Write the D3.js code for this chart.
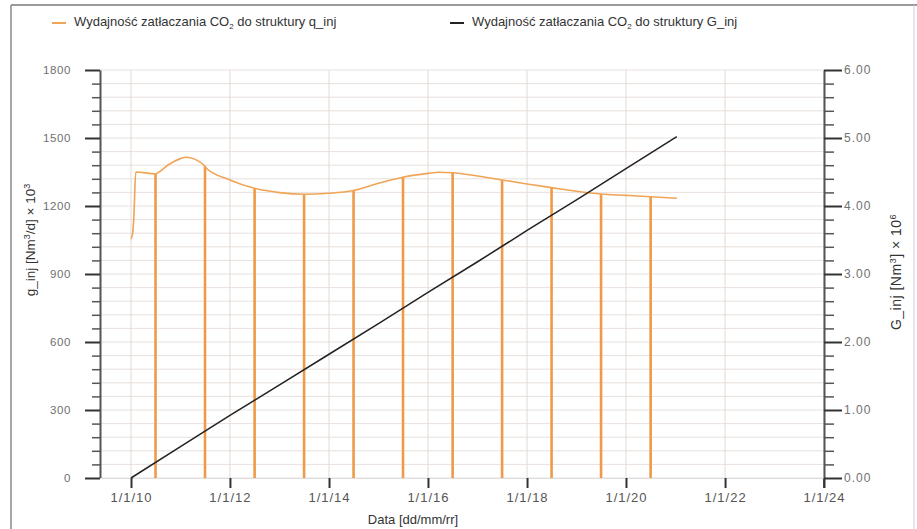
<!DOCTYPE html>
<html>
<head>
<meta charset="utf-8">
<script src="https://cdn.jsdelivr.net/npm/d3@7"></script>
<style>
  body { margin: 0; background: #fff; font-family: "Liberation Sans", Arial, sans-serif; }
  .tick text { fill: #707070; font-size: 11.5px; letter-spacing: 0.6px; }
  .raxis .tick text { font-size: 12px; letter-spacing: 1px; }
  .xaxis .tick text { font-size: 13px; fill: #555; letter-spacing: 1px; }
</style>
</head>
<body>
<svg id="chart" width="917" height="529"></svg>
<script>
// q_inj curve [10^3 Nm3/d]
const qDates = ["2010-01-01", "2010-01-12", "2010-01-22", "2010-02-05", "2010-06-30", "2010-08-01",
  "2010-10-01", "2011-01-01", "2011-02-10", "2011-06-28", "2011-07-05", "2012-01-01", "2012-06-30",
  "2013-01-01", "2013-06-30", "2014-01-01", "2014-06-30", "2015-01-01", "2015-06-30", "2016-01-01",
  "2016-03-20", "2016-06-30", "2017-01-01", "2017-06-30", "2018-01-01", "2018-06-30", "2019-01-01",
  "2019-06-30", "2020-01-01", "2020-06-30", "2021-01-10"];
const qValues = [1055, 1075, 1150, 1350, 1342, 1352, 1381, 1409, 1415, 1378, 1370, 1315, 1278,
  1259, 1252, 1256, 1268, 1300, 1327, 1344, 1349, 1347, 1332, 1315, 1297, 1281, 1265,
  1253, 1247, 1241, 1234];

// yearly shut-ins: rate drops to zero
const dipDates = ["2010-07-01", "2011-07-01", "2012-07-01", "2013-07-01", "2014-07-01", "2015-07-01",
  "2016-07-01", "2017-07-01", "2018-07-01", "2019-07-01", "2020-07-01"];
const dipTops = [1342, 1376, 1278, 1252, 1268, 1327, 1347, 1315, 1281, 1253, 1241];

// G_inj cumulative [10^6 Nm3]
const gDates = ["2010-01-01", "2011-01-01", "2012-01-01", "2013-01-01", "2014-01-01", "2015-01-01",
  "2016-01-01", "2017-01-01", "2018-01-01", "2019-01-01", "2020-01-01", "2021-01-10"];
const gValues = [0, 0.46, 0.92, 1.37, 1.82, 2.27, 2.73, 3.18, 3.64, 4.09, 4.55, 5.02];

const leftTicks = [0, 300, 600, 900, 1200, 1500, 1800];
const rightTicks = [0, 1, 2, 3, 4, 5, 6];
const xTickDates = ["2010-01-01", "2012-01-01", "2014-01-01", "2016-01-01", "2018-01-01",
  "2020-01-01", "2022-01-01", "2024-01-01"];
const xTickLabels = ["1/1/10", "1/1/12", "1/1/14", "1/1/16", "1/1/18", "1/1/20", "1/1/22", "1/1/24"];

const parse = d3.utcParse("%Y-%m-%d");
const svg = d3.select("#chart");

const plotL = 100, plotR = 824, plotT = 70, plotB = 478;
const x = d3.scaleUtc().domain([parse("2010-01-01"), parse("2024-01-01")]).range([131, plotR]);
const yL = d3.scaleLinear().domain([0, 1800]).range([plotB, plotT]);
const yR = d3.scaleLinear().domain([0, 6]).range([plotB, plotT]);

// frame
svg.append("line").attr("x1", 11).attr("x2", 917).attr("y1", 5).attr("y2", 5)
  .attr("stroke", "#9a9a9a").attr("stroke-width", 2);
svg.append("line").attr("x1", 11).attr("x2", 11).attr("y1", 5).attr("y2", 529)
  .attr("stroke", "#8a8a8a").attr("stroke-width", 1.5);
svg.append("line").attr("x1", 914).attr("x2", 914).attr("y1", 5).attr("y2", 529)
  .attr("stroke", "#d0d0d0").attr("stroke-width", 1);

// grid
const minorVals = d3.range(0, 1801, 60);
svg.append("g").selectAll("line").data(minorVals).join("line")
  .attr("x1", plotL).attr("x2", plotR)
  .attr("y1", d => yL(d)).attr("y2", d => yL(d))
  .attr("stroke", "#e8e0dc").attr("stroke-width", 1);
svg.append("g").selectAll("line").data(xTickDates).join("line")
  .attr("x1", d => x(parse(d))).attr("x2", d => x(parse(d)))
  .attr("y1", plotT).attr("y2", plotB)
  .attr("stroke", "#e2dad6").attr("stroke-width", 1);

// left axis
svg.append("g").attr("transform", `translate(${plotL},0)`)
  .call(d3.axisLeft(yL).tickValues(minorVals.filter(v => v % 300)).tickSize(8).tickFormat(""))
  .call(g => g.select(".domain").remove())
  .call(g => g.selectAll("line").attr("stroke", "#555").attr("stroke-width", 1.5));
svg.append("g").attr("transform", `translate(${plotL},0)`)
  .call(d3.axisLeft(yL).tickValues(leftTicks).tickSize(15).tickPadding(14).tickSizeOuter(0)
    .tickFormat(d3.format("d")))
  .call(g => g.select(".domain").attr("stroke", "#555").attr("stroke-width", 2))
  .call(g => g.selectAll("line").attr("stroke", "#333").attr("stroke-width", 2));

// right axis
const rightMinor = d3.range(0, 6.01, 0.2).filter(v => Math.abs(v - Math.round(v)) > 0.01);
svg.append("g").attr("transform", `translate(${plotR},0)`)
  .call(d3.axisRight(yR).tickValues(rightMinor).tickSize(10).tickFormat(""))
  .call(g => g.select(".domain").remove())
  .call(g => g.selectAll("line").attr("stroke", "#555").attr("stroke-width", 1.5));
svg.append("g").attr("class", "raxis").attr("transform", `translate(${plotR},0)`)
  .call(d3.axisRight(yR).tickValues(rightTicks).tickSize(18).tickPadding(2).tickSizeOuter(0)
    .tickFormat(d3.format(".2f")))
  .call(g => g.select(".domain").attr("stroke", "#555").attr("stroke-width", 2))
  .call(g => g.selectAll("line").attr("stroke", "#333").attr("stroke-width", 2));
svg.append("line").attr("x1", plotR).attr("x2", plotR).attr("y1", plotB).attr("y2", 488)
  .attr("stroke", "#555").attr("stroke-width", 2);

// x axis
svg.append("g").attr("class", "xaxis").attr("transform", `translate(0,${plotB})`)
  .call(d3.axisBottom(x).tickValues(xTickDates.map(parse)).tickSize(10).tickPadding(5)
    .tickFormat((d, i) => xTickLabels[i]))
  .call(g => g.select(".domain").attr("stroke", "#ddd").attr("d", `M${plotL},0.5H${plotR}`))
  .call(g => g.selectAll("line").attr("stroke", "#333").attr("stroke-width", 2));

// orange shut-in bars
svg.append("g").selectAll("line").data(dipDates).join("line")
  .attr("x1", d => x(parse(d))).attr("x2", d => x(parse(d)))
  .attr("y1", yL(0)).attr("y2", (d, i) => yL(dipTops[i]))
  .attr("stroke", "#ee9a46").attr("stroke-width", 2.6);

// q_inj curve
const qData = qDates.map((d, i) => ({ date: parse(d), v: qValues[i] }));
svg.append("path").datum(qData)
  .attr("fill", "none").attr("stroke", "#f0a456").attr("stroke-width", 1.6)
  .attr("d", d3.line().x(d => x(d.date)).y(d => yL(d.v)).curve(d3.curveMonotoneX));

// G_inj line
const gData = gDates.map((d, i) => ({ date: parse(d), v: gValues[i] }));
svg.append("path").datum(gData)
  .attr("fill", "none").attr("stroke", "#222").attr("stroke-width", 1.5)
  .attr("d", d3.line().x(d => x(d.date)).y(d => yR(d.v)));

// axis titles
svg.append("text").attr("transform", "translate(35,240) rotate(-90)")
  .attr("text-anchor", "middle").attr("font-size", 13.5).attr("fill", "#333")
  .html('g_inj [Nm<tspan font-size="9" dy="-5">3</tspan><tspan dy="5">/d] × 10</tspan><tspan font-size="9" dy="-5">3</tspan>');
svg.append("text").attr("transform", "translate(901,272) rotate(-90)")
  .attr("text-anchor", "middle").attr("font-size", 14).attr("fill", "#333")
  .attr("letter-spacing", 0.5)
  .html('G_inj [Nm<tspan font-size="9" dy="-5">3</tspan><tspan dy="5">] × 10</tspan><tspan font-size="9" dy="-5">6</tspan>');
svg.append("text").attr("x", 413).attr("y", 524).attr("text-anchor", "middle")
  .attr("font-size", 13).attr("fill", "#333").text("Data [dd/mm/rr]");

// legend
const legend = [
  { x: 52, color: "#f0a456", name: "q_inj" },
  { x: 450, color: "#222", name: "G_inj" }
];
const lg = svg.append("g").selectAll("g").data(legend).join("g")
  .attr("transform", d => `translate(${d.x},0)`);
lg.append("line").attr("x1", 0).attr("x2", 14).attr("y1", 23).attr("y2", 23)
  .attr("stroke", d => d.color).attr("stroke-width", 2);
lg.append("text").attr("x", 22).attr("y", 26).attr("font-size", 13).attr("fill", "#333")
  .html(d => `Wydajność zatłaczania CO<tspan font-size="8" dy="3">2</tspan><tspan dy="-3"> do struktury ${d.name}</tspan>`);
</script>
</body>
</html>
